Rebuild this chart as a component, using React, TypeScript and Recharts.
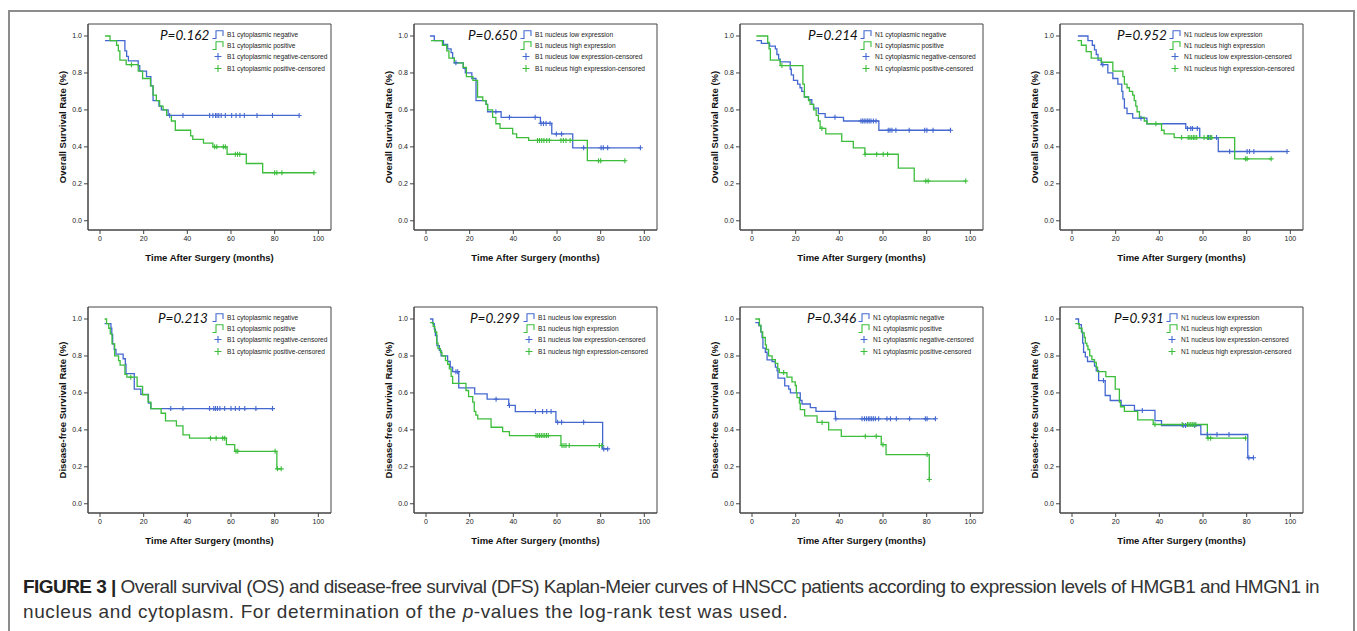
import React from 'react';
import { ComposedChart, Line, Scatter, XAxis, YAxis, ReferenceArea } from 'recharts';

type Pt = [number, number];

const xTicks = [0, 20, 40, 60, 80, 100];
const yTicks = [0, 0.2, 0.4, 0.6, 0.8, 1.0];
const pValues = ['0.162', '0.650', '0.214', '0.952', '0.213', '0.299', '0.346', '0.931'];
const groupNames = [
  ['B1 cytoplasmic negative', 'B1 cytoplasmic positive'],
  ['B1 nucleus low expression', 'B1 nucleus high expression'],
  ['N1 cytoplasmic negative', 'N1 cytoplasmic positive'],
  ['N1 nucleus low expression', 'N1 nucleus high expression'],
];
const yTitles = ['Overall Survival Rate (%)', 'Disease-free Survival Rate (%)'];
const xTitle = 'Time After Surgery (months)';

// overall survival, top row: [months, survival] at each step
const osB1CytoNeg: Pt[] = [[2.3, 0.975], [11.4, 0.92], [12.2, 0.89], [13, 0.865], [17.5, 0.84], [18.2, 0.81], [21.3, 0.78], [23.3, 0.73], [24.3, 0.65], [27, 0.62], [28.1, 0.6], [31.2, 0.57]];
const osB1CytoNegCens = [31.9, 38, 50.2, 51.7, 52.9, 53.6, 54.4, 55.5, 57.4, 60.3, 62.3, 64.1, 66.1, 71.9, 79, 91.2];
const osB1CytoPos: Pt[] = [[2.3, 1], [4.6, 0.975], [7.6, 0.95], [8.4, 0.92], [9.1, 0.87], [12, 0.845], [17.5, 0.81], [19.5, 0.77], [23.1, 0.73], [24.3, 0.68], [25.8, 0.65], [27.3, 0.62], [28.9, 0.6], [30.5, 0.57], [32.7, 0.54], [34.5, 0.49], [41.5, 0.46], [42.5, 0.44], [47.4, 0.42], [51.7, 0.4], [58.2, 0.36], [67, 0.31], [74.5, 0.26]];
const osB1CytoPosCens = [14.4, 52.5, 53.5, 56.5, 57.4, 62, 63, 64, 80, 81, 83.3, 98];

const osB1NucLow: Pt[] = [[1.8, 1], [3.8, 0.975], [8, 0.955], [9.9, 0.93], [11.5, 0.91], [12.2, 0.88], [13, 0.855], [17.1, 0.825], [18, 0.8], [21, 0.77], [22.9, 0.65], [27.5, 0.63], [28.2, 0.59], [34.4, 0.56], [52.4, 0.527], [57.6, 0.47], [67.2, 0.395]];
const osB1NucLowCens = [13.7, 32, 38.2, 50, 52.7, 53.8, 55, 56.8, 59.7, 62.1, 72.2, 80.2, 81.2, 83.2, 98.2];
const osB1NucHigh: Pt[] = [[2.3, 0.975], [7.5, 0.95], [9.5, 0.92], [10.5, 0.88], [13, 0.855], [17, 0.83], [18.5, 0.78], [21.5, 0.76], [23.6, 0.67], [26, 0.65], [27.5, 0.63], [28.2, 0.6], [30.5, 0.56], [32, 0.525], [33.9, 0.5], [39.7, 0.47], [41.5, 0.45], [47, 0.435], [73.9, 0.325]];
const osB1NucHighCens = [51.1, 52, 53, 54, 55.3, 56.5, 61.8, 62.9, 64.1, 66, 79, 80, 91.1];

const osN1CytoNeg: Pt[] = [[2, 0.975], [4.3, 0.96], [8.1, 0.945], [10.7, 0.93], [11.4, 0.9], [12.2, 0.875], [12.9, 0.86], [17.5, 0.82], [18, 0.79], [19, 0.76], [20.9, 0.74], [22, 0.72], [22.8, 0.7], [24, 0.67], [25.9, 0.655], [27.4, 0.63], [28.2, 0.61], [30.4, 0.58], [33.5, 0.56], [41.9, 0.54], [58.1, 0.49]];
const osN1CytoNegCens = [38, 49.9, 50.7, 51.4, 52.2, 53, 53.7, 54.5, 55.6, 56.8, 62.4, 63.2, 64.1, 65.9, 72, 79.1, 80.1, 82.9, 90.9];
const osN1CytoPos: Pt[] = [[2, 1], [7.2, 0.965], [7.8, 0.93], [8.4, 0.87], [12.9, 0.84], [23.3, 0.74], [24, 0.67], [25.9, 0.65], [26.6, 0.63], [28.2, 0.6], [29.4, 0.57], [30.4, 0.54], [31.2, 0.5], [33.8, 0.47], [41.1, 0.43], [46.4, 0.395], [51.7, 0.36], [67, 0.285], [74.3, 0.215]];
const osN1CytoPosCens = [13.7, 32, 51.8, 57.1, 60.1, 62.1, 79.6, 80.7, 97.9];

const osN1NucLow: Pt[] = [[2.7, 1], [7.3, 0.975], [9.3, 0.95], [10.3, 0.925], [11.1, 0.9], [11.9, 0.87], [13.5, 0.845], [16.4, 0.8], [18.7, 0.77], [21, 0.74], [22.8, 0.7], [23.3, 0.66], [24, 0.61], [25.2, 0.58], [27.8, 0.555], [34.3, 0.525], [52.1, 0.5], [58.5, 0.45], [67, 0.375]];
const osN1NucLowCens = [14.1, 31.6, 52.9, 54.4, 55.2, 57.4, 62.5, 63.5, 66.2, 72.2, 80.2, 81.3, 83.3, 98.5];
const osN1NucHigh: Pt[] = [[2.5, 0.975], [4.3, 0.95], [6.5, 0.915], [8.8, 0.88], [13.4, 0.858], [18.7, 0.81], [23.3, 0.78], [24, 0.74], [25.2, 0.72], [26.3, 0.7], [27.8, 0.68], [28.5, 0.65], [29.2, 0.62], [29.8, 0.59], [30.9, 0.56], [33.1, 0.54], [34.3, 0.525], [41, 0.49], [42.2, 0.47], [46.8, 0.45], [74.5, 0.335]];
const osN1NucHighCens = [38.4, 50.2, 53.2, 54, 54.8, 55.6, 56.3, 57.1, 60.5, 62, 63.2, 64, 79.5, 80.2, 91.2];

// disease-free survival, bottom row
const dfsB1CytoNeg: Pt[] = [[2.1, 0.975], [5, 0.95], [5.4, 0.915], [5.8, 0.865], [6.5, 0.835], [7.3, 0.81], [10.6, 0.785], [11.6, 0.755], [11.9, 0.704], [15.7, 0.621], [18.7, 0.592], [22.2, 0.545], [23.3, 0.515]];
const dfsB1CytoNegCens = [32.4, 38, 50.2, 52.1, 52.9, 53.8, 54.9, 57.1, 60, 62, 63.8, 66.3, 71.4, 79];
const dfsB1CytoPos: Pt[] = [[2.1, 1], [3, 0.975], [4, 0.95], [4.7, 0.92], [5.5, 0.865], [6.7, 0.8], [8.5, 0.775], [9.2, 0.75], [11.4, 0.7], [12.3, 0.685], [17, 0.635], [19.5, 0.59], [22, 0.55], [23.3, 0.515], [28, 0.49], [30, 0.449], [35, 0.422], [38, 0.373], [41, 0.355], [57.9, 0.32], [61.7, 0.284], [81, 0.189]];
const dfsB1CytoPosCens = [14.1, 50.6, 53.2, 56.2, 57.1, 62.3, 63.1, 80.2, 81.3, 83];

const dfsB1NucLow: Pt[] = [[1.8, 1], [3.1, 0.975], [3.8, 0.945], [4.3, 0.91], [5, 0.856], [6.1, 0.83], [6.9, 0.8], [9.9, 0.77], [11.1, 0.74], [12.2, 0.715], [15, 0.627], [22.3, 0.595], [28, 0.566], [37.9, 0.532], [40.9, 0.499], [59.5, 0.441], [80.9, 0.297]];
const dfsB1NucLowCens = [13.7, 14.5, 32.1, 38.2, 50.1, 53.4, 55.3, 57.3, 60.3, 62.1, 72.2, 81.4, 83.2];
const dfsB1NucHigh: Pt[] = [[1.8, 0.98], [3.3, 0.96], [4, 0.93], [4.9, 0.87], [5.5, 0.84], [6.6, 0.82], [7.3, 0.8], [8.9, 0.775], [9.9, 0.755], [10.7, 0.73], [11.5, 0.69], [12.2, 0.652], [18.3, 0.613], [19.5, 0.58], [21.4, 0.55], [22.1, 0.5], [22.8, 0.48], [23.7, 0.459], [29.8, 0.414], [35.1, 0.39], [38.2, 0.369], [61.8, 0.315]];
const dfsB1NucHighCens = [50.4, 51.2, 52, 52.8, 53.6, 54.4, 55.2, 56, 62.3, 63.2, 64.1, 65.6, 79.4, 80.5];

const dfsN1CytoNeg: Pt[] = [[1.5, 0.98], [3.1, 0.965], [4, 0.93], [4.6, 0.9], [5, 0.842], [6.1, 0.82], [6.9, 0.779], [9.2, 0.77], [10.7, 0.74], [11.5, 0.72], [11.9, 0.68], [15, 0.638], [16.8, 0.62], [17.6, 0.6], [22.1, 0.559], [22.9, 0.54], [26.7, 0.52], [29.3, 0.5], [38.2, 0.46]];
const dfsN1CytoNegCens = [38.4, 50.4, 51.5, 52.4, 53.3, 54, 54.8, 55.6, 56.5, 58, 61.8, 63.4, 66.1, 72.2, 79.4, 80.2, 84];
const dfsN1CytoPos: Pt[] = [[1.5, 1], [3.4, 0.965], [4.1, 0.93], [4.9, 0.9], [6.1, 0.86], [6.6, 0.835], [7.6, 0.8], [9.2, 0.78], [10.7, 0.76], [11.8, 0.73], [12.5, 0.71], [16, 0.685], [18.3, 0.66], [19.8, 0.64], [20.3, 0.6], [20.6, 0.575], [21.7, 0.545], [22.1, 0.509], [24.1, 0.476], [29.8, 0.44], [35.1, 0.4], [40.9, 0.365], [59.2, 0.32], [61.4, 0.266], [81.2, 0.131]];
const dfsN1CytoPosCens = [14.5, 32.1, 51.9, 56.9, 60, 80.2, 81.2];

const dfsN1NucLow: Pt[] = [[1.5, 1], [3, 0.97], [4.3, 0.93], [4.9, 0.87], [5.3, 0.82], [6.1, 0.795], [7.1, 0.77], [10.3, 0.745], [11.1, 0.72], [12.2, 0.667], [15.2, 0.586], [17.5, 0.559], [22.5, 0.532], [28.6, 0.505], [38, 0.45], [41, 0.423], [59, 0.375], [80.5, 0.249]];
const dfsN1NucLowCens = [14.4, 32.2, 50.9, 52, 56.2, 62, 66.4, 71.9, 81, 83.1];
const dfsN1NucHigh: Pt[] = [[1.5, 0.975], [3.3, 0.95], [4.6, 0.925], [5.6, 0.9], [6.1, 0.87], [6.8, 0.855], [7.3, 0.835], [8.1, 0.8], [9.1, 0.78], [10.3, 0.765], [11.1, 0.74], [11.7, 0.715], [15.5, 0.688], [19.8, 0.62], [21.7, 0.55], [22.2, 0.525], [24, 0.5], [30.1, 0.454], [37.2, 0.429], [62, 0.355]];
const dfsN1NucHighCens = [38, 50.5, 52.9, 53.6, 54.4, 55.1, 55.9, 56.7, 62.3, 63.5, 79.5];

const curves: [Pt[], number[], Pt[], number[]][] = [
  [osB1CytoNeg, osB1CytoNegCens, osB1CytoPos, osB1CytoPosCens],
  [osB1NucLow, osB1NucLowCens, osB1NucHigh, osB1NucHighCens],
  [osN1CytoNeg, osN1CytoNegCens, osN1CytoPos, osN1CytoPosCens],
  [osN1NucLow, osN1NucLowCens, osN1NucHigh, osN1NucHighCens],
  [dfsB1CytoNeg, dfsB1CytoNegCens, dfsB1CytoPos, dfsB1CytoPosCens],
  [dfsB1NucLow, dfsB1NucLowCens, dfsB1NucHigh, dfsB1NucHighCens],
  [dfsN1CytoNeg, dfsN1CytoNegCens, dfsN1CytoPos, dfsN1CytoPosCens],
  [dfsN1NucLow, dfsN1NucLowCens, dfsN1NucHigh, dfsN1NucHighCens],
];

// plot-box position of each panel on the page, plus p-value / legend offsets
const layout = [
  { left: 88, top: 24, pDx: 72, legDx: 124 },
  { left: 414, top: 24, pDx: 54, legDx: 106 },
  { left: 740, top: 24, pDx: 68, legDx: 120 },
  { left: 1060, top: 24, pDx: 57, legDx: 109 },
  { left: 88, top: 307, pDx: 70, legDx: 124 },
  { left: 414, top: 307, pDx: 56, legDx: 109 },
  { left: 740, top: 307, pDx: 67, legDx: 118 },
  { left: 1060, top: 307, pDx: 54, legDx: 106 },
];

const BLUE = '#4468d0';
const GREEN = '#3cbd3c';
const SANS = '"Liberation Sans", Arial, sans-serif';
const X_DOMAIN: [number, number] = [-5.5, 105.8];
const Y_DOMAIN: [number, number] = [-0.05, 1.065];

function survAt(pts: Pt[], t: number) {
  let s = pts[0][1];
  for (const [pt, ps] of pts) if (pt <= t) s = ps;
  return s;
}

function stepRows(pts: Pt[], cens: number[]) {
  const rows = pts.map(([t, s]) => ({ t, s }));
  const last = pts[pts.length - 1];
  const end = Math.max(last[0], ...cens);
  if (end > last[0]) rows.push({ t: end, s: last[1] });
  return rows;
}

function censRows(pts: Pt[], cens: number[]) {
  return cens.map(t => ({ t, s: survAt(pts, t) }));
}

const cross = (color: string) => (props: any) => {
  const { cx, cy } = props;
  return <path d={`M${cx - 2.5},${cy}h5M${cx},${cy - 2.5}v5`} stroke={color} strokeWidth={1.1} fill="none" />;
};

function XTitle(props: any) {
  const { x, y, width } = props.viewBox;
  return (
    <text x={x + width / 2} y={y + 27} textAnchor="middle" dominantBaseline="central" fontSize={9.5} fontWeight="bold" fontFamily={SANS} fill="#111">
      {xTitle}
    </text>
  );
}

function YTitle(props: any) {
  const { x, y, width, height } = props.viewBox;
  const cx = x + width - 26;
  const cy = y + height / 2;
  return (
    <text x={cx} y={cy} transform={`rotate(-90 ${cx} ${cy})`} textAnchor="middle" dominantBaseline="central" fontSize={9.5} fontWeight="bold" fontFamily={SANS} fill="#111">
      {props.title}
    </text>
  );
}

function StepIcon({ color }: { color: string }) {
  return (
    <svg width={12} height={9} style={{ display: 'block' }}>
      <path d="M0.5,8.5 H4 V0.8 H11 V6" stroke={color} strokeWidth={1.1} fill="none" />
    </svg>
  );
}

function PlusIcon({ color }: { color: string }) {
  return (
    <svg width={12} height={9} style={{ display: 'block' }}>
      <path d="M2.5,4.5 H9.5 M6,1 V8" stroke={color} strokeWidth={1.1} fill="none" />
    </svg>
  );
}

function KMPanel({ idx }: { idx: number }) {
  const L = layout[idx];
  const [a, aC, b, bC] = curves[idx];
  const names = groupNames[idx % 4];
  const legend = [
    { icon: <StepIcon color={BLUE} />, label: names[0] },
    { icon: <StepIcon color={GREEN} />, label: names[1] },
    { icon: <PlusIcon color={BLUE} />, label: names[0] + '-censored' },
    { icon: <PlusIcon color={GREEN} />, label: names[1] + '-censored' },
  ];
  return (
    <div style={{ position: 'absolute', left: L.left - 88, top: L.top - 24, width: 340, height: 265 }}>
      <ComposedChart width={340} height={265} margin={{ top: 24, right: 9, bottom: 5, left: 66 }}>
        <XAxis
          type="number"
          dataKey="t"
          domain={X_DOMAIN}
          ticks={xTicks}
          allowDataOverflow
          interval={0}
          height={30}
          tickSize={4}
          tickMargin={2}
          stroke="#444"
          tick={{ fontSize: 7, fill: '#222', fontFamily: SANS }}
          label={<XTitle />}
        />
        <YAxis
          type="number"
          dataKey="s"
          domain={Y_DOMAIN}
          ticks={yTicks}
          allowDataOverflow
          interval={0}
          width={22}
          tickSize={4}
          tickMargin={2}
          stroke="#444"
          tickFormatter={(v: number) => v.toFixed(1)}
          tick={{ fontSize: 7, fill: '#222', fontFamily: SANS }}
          label={<YTitle title={yTitles[idx < 4 ? 0 : 1]} />}
        />
        <ReferenceArea x1={X_DOMAIN[0]} x2={X_DOMAIN[1]} y1={Y_DOMAIN[0]} y2={Y_DOMAIN[1]} fill="none" stroke="#444" strokeWidth={1} />
        <Line data={stepRows(a, aC)} dataKey="s" type="stepAfter" stroke={BLUE} strokeWidth={1.3} dot={false} activeDot={false} isAnimationActive={false} />
        <Line data={stepRows(b, bC)} dataKey="s" type="stepAfter" stroke={GREEN} strokeWidth={1.3} dot={false} activeDot={false} isAnimationActive={false} />
        <Scatter data={censRows(a, aC)} dataKey="s" fill={BLUE} shape={cross(BLUE)} isAnimationActive={false} />
        <Scatter data={censRows(b, bC)} dataKey="s" fill={GREEN} shape={cross(GREEN)} isAnimationActive={false} />
      </ComposedChart>
      <div style={{ position: 'absolute', left: 88 + L.pDx, top: 24 + 12, transform: 'translateY(-50%)', fontFamily: 'Lato, sans-serif', fontStyle: 'italic', fontSize: 13.5, color: '#111', whiteSpace: 'nowrap', lineHeight: 1 }}>
        P={pValues[idx]}
      </div>
      <div style={{ position: 'absolute', left: 88 + L.legDx, top: 24 + 4.5 }}>
        {legend.map((it, i) => (
          <div key={i} style={{ display: 'flex', alignItems: 'center', height: 11.3 }}>
            {it.icon}
            <span style={{ marginLeft: 3, fontFamily: SANS, fontSize: 6.6, color: '#222', whiteSpace: 'nowrap' }}>{it.label}</span>
          </div>
        ))}
      </div>
    </div>
  );
}

export default function App() {
  return (
    <div style={{ position: 'absolute', left: 0, top: 0, width: 1357, height: 631, background: '#fff', overflow: 'hidden' }}>
      <div style={{ position: 'absolute', left: 8, top: 10, width: 1347, height: 630, border: '2px solid #8c8c8c', borderBottom: 'none', boxSizing: 'border-box' }} />
      {layout.map((_, i) => (
        <KMPanel key={i} idx={i} />
      ))}
      <div style={{ position: 'absolute', left: 23, top: 574, fontFamily: SANS, fontSize: 19, lineHeight: '25px', color: '#333', whiteSpace: 'nowrap' }}>
        <div style={{ letterSpacing: -0.55 }}>
          <b style={{ color: '#222' }}>FIGURE 3 |</b> Overall survival (OS) and disease-free survival (DFS) Kaplan-Meier curves of HNSCC patients according to expression levels of HMGB1 and HMGN1 in
        </div>
        <div style={{ letterSpacing: 0.6 }}>
          nucleus and cytoplasm. For determination of the <i>p</i>-values the log-rank test was used.
        </div>
      </div>
    </div>
  );
}
